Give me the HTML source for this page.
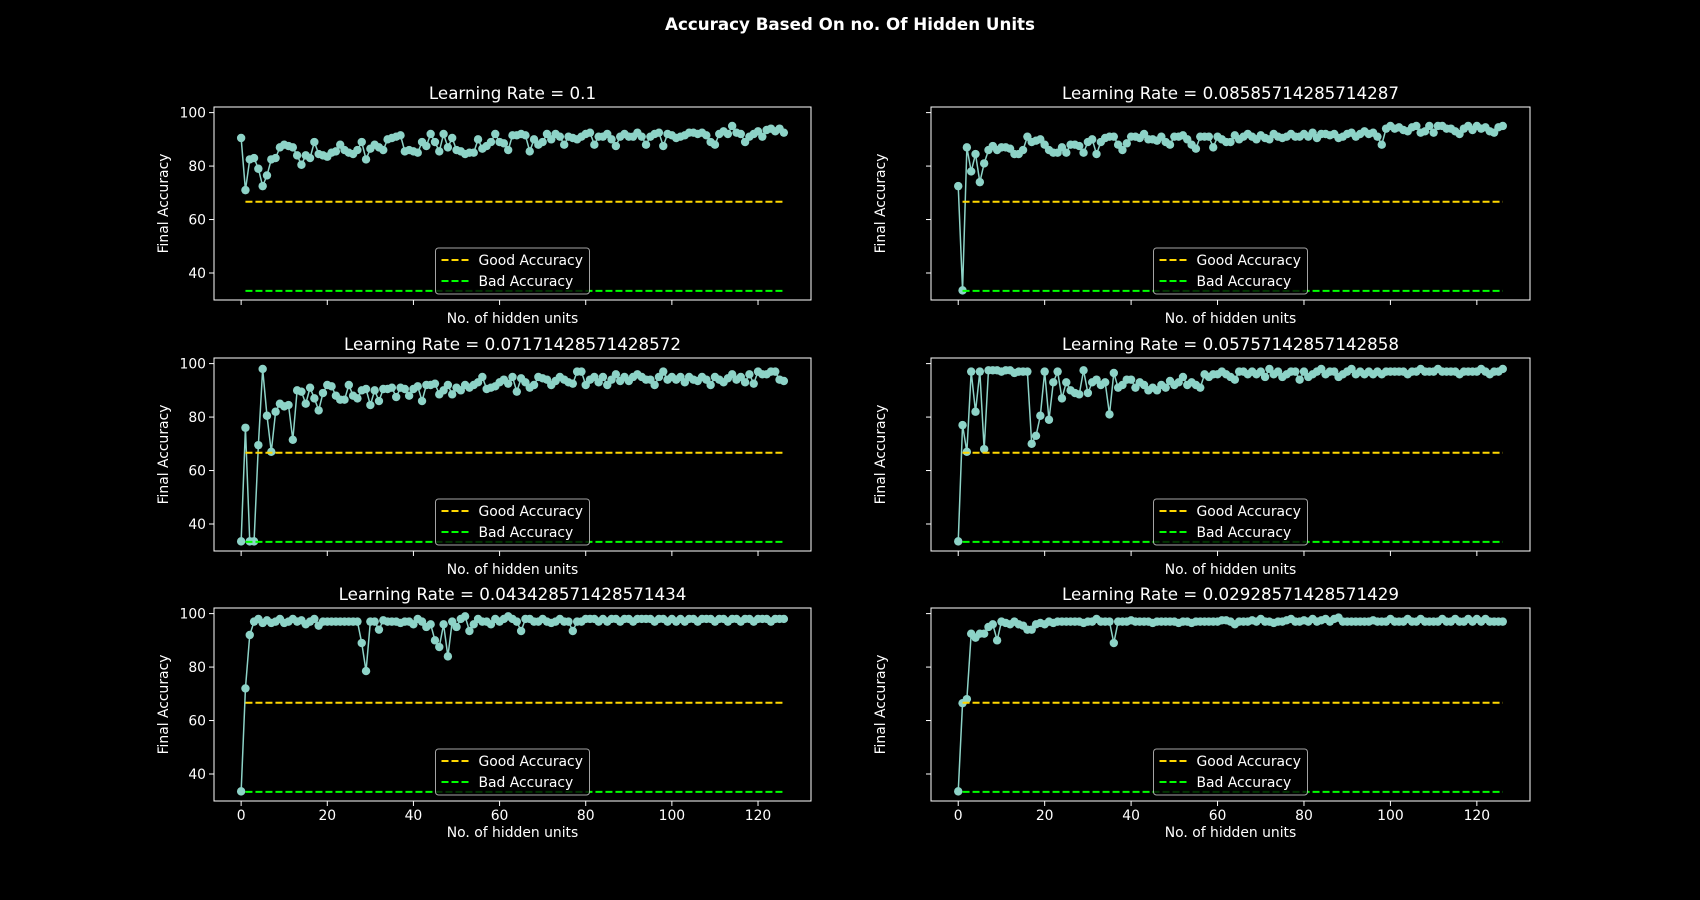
<!DOCTYPE html>
<html><head><meta charset="utf-8"><style>
html,body{margin:0;padding:0;background:#000;}
svg{display:block;font-family:"DejaVu Sans","Liberation Sans",sans-serif;}
</style></head><body>
<svg id="fig" width="1700" height="900" viewBox="0 0 1700 900" xmlns="http://www.w3.org/2000/svg">
<rect width="1700" height="900" fill="#000"/>
<text x="850" y="30" fill="#fff" font-size="16.7" font-weight="bold" text-anchor="middle">Accuracy Based On no. Of Hidden Units</text>
</svg>
<script>
const titles = ["Learning Rate = 0.1","Learning Rate = 0.08585714285714287","Learning Rate = 0.07171428571428572","Learning Rate = 0.05757142857142858","Learning Rate = 0.043428571428571434","Learning Rate = 0.02928571428571429"];
const xTicks = [0,20,40,60,80,100,120];
const yTicks = [40,60,80,100];
const goodAcc = 66.67;
const badAcc = 33.33;
const lr01 = [90.5,71,82.5,83,79,72.5,76.5,82.5,83,87,88,87.5,87,84,80.5,84,83,89,84.5,84,83.5,85,85.5,88,86,85,84.5,86,89,82.5,86.5,88,87,86,90,90.5,91,91.5,85.5,86,85.5,85,89,87.5,92,89,85.5,92,87,90.5,86,85.5,84.5,85,85,90,86.5,87.5,89,92,89,88.5,86,91.5,91.5,92,91.5,85.5,90,88,89,92,90,92,91,88,91,90.5,90,91,92,92.5,88,91,91,92,90,87.5,91,92,91,91,92.5,91,88,91,92,92.5,87.5,92,91.5,90.5,91,91.5,92.5,92.5,92,92.5,91.5,89,88,92,93,92,95,92.5,92,89,91,92,93,91,93.5,94,93,94,92.5];
const lr0859 = [72.5,33.5,87,78,84.5,74,81,86,87.5,86,87,87,86.5,84.5,84.5,86,91,89,89.5,90,88,86,85,85,87,85,88,88,87.5,85,89,90,84.5,89,90.5,91,91,88,86,88.5,91,91,90.5,92,90,90,89.5,91,89,88,91,91,91.5,90,88,86.5,91,91,91,87,91,90,89,89,91.5,90,91,92,91,90,91.5,90.5,90,92,91,90.5,91,92,91,91,92,91,92.5,90.5,92,92,91.5,92,90.5,91,92,92.5,91,92,93,92,92.5,91,88,94,95,94,94.5,93.5,93,94.5,95,92.5,93,95,92.5,95,95,94,94,93,92,94,95,93.5,95,94,94.5,93,92.5,94.5,95];
const lr0717 = [33.5,76,33.5,33.5,69.5,98,80.5,67,82,85,84,84.5,71.5,90,89.5,85,91,87,82.5,89,92,91.5,88,86.5,86.5,92,88,87,90,90.5,84.5,90,86,90.5,90.5,91,87.5,91,90.5,88,90.5,91.5,86,92,92,92.5,88.5,90,92,88.5,91,90,92,91,92,93,95,90.5,91,91.5,93,94,92.5,95,89.5,94.5,93,91,92,95,94.5,94,92,93.5,95,94,93,92.5,97,97,92,94,95,93,95,92,94,96,93.5,95,93.5,95,96,95,94,94,92,95,97,94,95,94,95,93,95,94,93.5,95,94,92,95,94,93,94.5,96,94,95,93,96,92.5,97,96,96,97,97,94,93.5];
const lr0576 = [33.5,77,67,97,82,97,68,97.5,97.5,97.5,97,97.5,97.5,96.5,97,97,97,70,73,80.5,97,79,93,97,87,93,90,89,88.5,97.5,89,93,94,92,93,81,96.5,91,92,94,94,91,93,92,90,91,90,92,91,93.5,92,93,95,92,93,92,91,96,95,96,96,97,96,95,94,97,97,96,97,96,97,95,98,96,97,95,96,97,97,94,97,95,96,97,98,96,97,97,95,96,97,98,96,97,96,97,96,97,96,97,97,97,97,97,96,97,97,98,97,97,97,98,97,97,97,97,96,97,97,97,97,98,97,96,97,97,98];
const lr0434 = [33.5,72,92,97,98,96.5,97.5,96.5,97,98,96.5,97,98,97,97.5,96,97,98,95.5,97,97,97,97,97,97,97,97,97,89,78.5,97,97,94,97.5,97,97,97,96.5,97,97,96,98,97,95,96,90,87.5,96,84,97,95,98,99,93.5,96,98,97,97,96,98,97,98,99,98,97,93.5,98,98,97,97,98,97,96.5,97,98,97,97,93.5,97,97,98,98,98,97,98,97,98,98,97,98,98,97,98,98,98,98,97,98,98,97,98,97,98,97,98,98,97,98,98,98,97,98,98,97,98,98,97,98,98,97,98,98,98,97,98,98,98];
const lr0293 = [33.5,66.5,68,92.5,91,92.5,92.5,95,96,90,97,96.5,96,97,96,95.5,94,94,96,96.5,96,97,96.5,97,97,97,97,97,97,96.5,97,97,98,97,97,97,89,97,97,97,97.5,97,97,97,97,96.5,97,97,97,97,97,96.5,97,97,96.5,97,97,97,97,97,97,97.5,97.5,97,96,97,97,97,97.5,97,98,97,97,96.5,97,97,97.5,98,97,97,97.5,97,98,97,97.5,98,97,98,98.5,97,97,97,97,97,97,97,97.5,97,97,97,98,97,97,97,98,97,97,98,97,97,97,97,98,97,97,98,97,97,98,97,98,97,98,97,97,97,97];
const series = [lr01, lr0859, lr0717, lr0576, lr0434, lr0293];

const NS = "http://www.w3.org/2000/svg";
const svg = document.getElementById("fig");
function mk(tag, attrs, parent){ const e=document.createElementNS(NS,tag); for(const k in attrs) e.setAttribute(k,attrs[k]); (parent||svg).appendChild(e); return e; }
const cols=[[214,811],[931,1530]], rows=[[107,300],[358,551],[608,801]];
const XMIN=-6.3, XMAX=132.3, YMIN=29.9, YMAX=102.1;
const TEAL="#8dd3c7";
for(let i=0;i<6;i++){
  const c=cols[i%2], r=rows[Math.floor(i/2)];
  const sx=v=>c[0]+(v-XMIN)/(XMAX-XMIN)*(c[1]-c[0]);
  const sy=v=>r[1]-(v-YMIN)/(YMAX-YMIN)*(r[1]-r[0]);
  const g=mk("g",{});
  
  
  const t=mk("text",{x:(c[0]+c[1])/2,y:r[0]-8,fill:"#fff","font-size":"16.7","text-anchor":"middle"},g);
  t.textContent=titles[i];
  
  
  // ticks
  xTicks.forEach(v=>{
    const tk=mk("line",{x1:sx(v),x2:sx(v),y1:r[1],y2:r[1]+5,stroke:"#fff","stroke-width":1},g);
    
    
    if(i>=4){
      const tl=mk("text",{x:sx(v),y:r[1]+19,fill:"#fff","font-size":"13.9","text-anchor":"middle"},g);
      tl.textContent=v;
      
      
    }
  });
  yTicks.forEach(v=>{
    const tk=mk("line",{x1:c[0]-5,x2:c[0],y1:sy(v),y2:sy(v),stroke:"#fff","stroke-width":1},g);
    
    
    if(i%2===0){
      const tl=mk("text",{x:c[0]-8,y:sy(v)+5,fill:"#fff","font-size":"13.9","text-anchor":"end"},g);
      tl.textContent=v;
      
      
    }
  });
  const yl=mk("text",{x:0,y:0,fill:"#fff","font-size":"13.9","text-anchor":"middle",transform:`translate(${c[0]-46},${(r[0]+r[1])/2}) rotate(-90)`},g);
  yl.textContent="Final Accuracy";
  
  
  const xl=mk("text",{x:(c[0]+c[1])/2,y:r[1]+(i>=4?36:23),fill:"#fff","font-size":"13.9","text-anchor":"middle"},g);
  xl.textContent="No. of hidden units";
  
  
  // data line
  const data=series[i];
  const pts=data.map((v,k)=>sx(k).toFixed(2)+","+sy(v).toFixed(2)).join(" ");
  const pl=mk("polyline",{points:pts,fill:"none",stroke:TEAL,"stroke-width":1.5},g);
  
  
  data.forEach((v,k)=>{
    const m=mk("circle",{cx:sx(k),cy:sy(v),r:4.2,fill:TEAL},g);
    
    
  });
  const gl=mk("line",{x1:sx(1),x2:sx(126),y1:sy(goodAcc),y2:sy(goodAcc),stroke:"#ffd700","stroke-width":2,"stroke-dasharray":"7,3"},g);
  
  
  const bl=mk("line",{x1:sx(1),x2:sx(126),y1:sy(badAcc),y2:sy(badAcc),stroke:"#00ff00","stroke-width":2,"stroke-dasharray":"7,3"},g);
  
  
  // axes frame
  const fr=mk("rect",{x:c[0],y:r[0],width:c[1]-c[0],height:r[1]-r[0],fill:"none",stroke:"#fff","stroke-width":1},g);
  
  
  // legend
  const lx=(c[0]+c[1])/2-77, ly=r[1]-52;
  const lg=mk("g",{},g);
  
  
  mk("rect",{x:lx,y:ly,width:154,height:46,rx:3,fill:"rgba(0,0,0,0.8)",stroke:"#ccc","stroke-opacity":0.8,"stroke-width":1},lg);
  [["Good Accuracy","#ffd700"],["Bad Accuracy","#00ff00"]].forEach((e,k)=>{
    const yy=ly+12+k*21;
    const le=mk("g",{},lg);
    
    
    mk("line",{x1:lx+6,x2:lx+34,y1:yy,y2:yy,stroke:e[1],"stroke-width":2,"stroke-dasharray":"7,3"},le);
    const tx=mk("text",{x:lx+43,y:yy+5,fill:"#fff","font-size":"13.9"},le);
    tx.textContent=e[0];
  });
}
</script>
</body></html>
